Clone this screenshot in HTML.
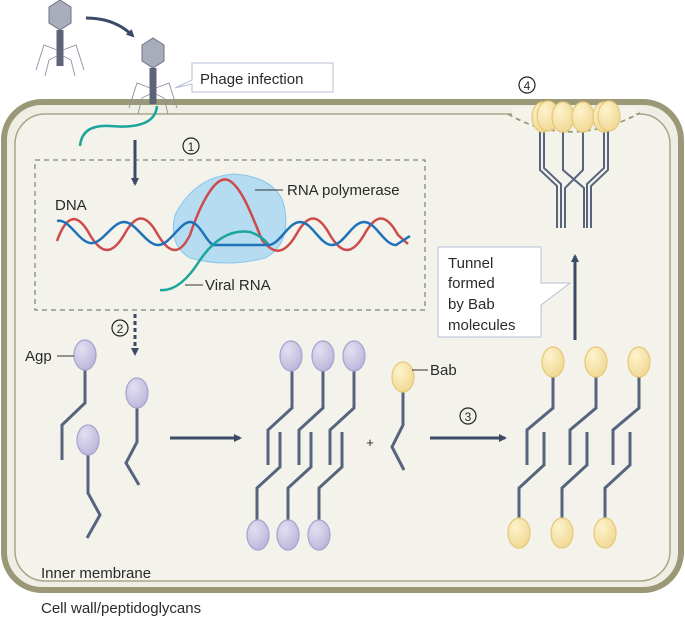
<!DOCTYPE html>
<html><head><meta charset="utf-8"><style>
body{margin:0;background:#fff;}
svg{display:block;font-family:"Liberation Sans",sans-serif;}
text{fill:#2a2a2a;}
</style></head><body>
<svg width="685" height="618" viewBox="0 0 685 618" xmlns="http://www.w3.org/2000/svg">
<defs>
<marker id="ah" markerWidth="8" markerHeight="8" refX="6" refY="4" orient="auto" markerUnits="userSpaceOnUse"><path d="M0,0 L8,4 L0,8 z" fill="#3b4a66"/></marker>
<radialGradient id="pg" cx="0.35" cy="0.3" r="0.8"><stop offset="0" stop-color="#e2e0f3"/><stop offset="1" stop-color="#b8b3d8"/></radialGradient>
<radialGradient id="yg" cx="0.35" cy="0.3" r="0.8"><stop offset="0" stop-color="#fdf3cc"/><stop offset="1" stop-color="#f0d690"/></radialGradient>
<g id="pb"><ellipse cx="0" cy="0" rx="11" ry="15" fill="url(#pg)" stroke="#a9a2cf" stroke-width="1.2"/></g>
<g id="yb"><ellipse cx="0" cy="0" rx="11" ry="15" fill="url(#yg)" stroke="#e6c878" stroke-width="1.2"/></g>
<g id="phage">
<path d="M-11,7 L0,0 L11,7 L11,23 L0,30 L-11,23z" fill="#a9adba" stroke="#6d7285"/>
<rect x="-3.5" y="30" width="7" height="36" fill="#5d6478"/>
<path d="M-3,50 L-16,45 L-24,70 M3,50 L16,45 L24,70 M-3,56 L-11,60 L-15,76 M3,56 L11,60 L15,76" stroke="#8a90a3" fill="none" stroke-width="0.9"/>
</g>
</defs>
<!-- cell -->
<rect x="4" y="102" width="677" height="488" rx="38" fill="#efeee4" stroke="#9b9878" stroke-width="6"/>
<rect x="15" y="114" width="655" height="467" rx="30" fill="#f3f2eb" stroke="#a8a68a" stroke-width="1.5"/>
<rect x="512" y="108" width="124" height="12" fill="#f3f2eb"/>
<path d="M508,114 Q570,150 640,113" fill="none" stroke="#9b9878" stroke-width="1.8" stroke-dasharray="5,4"/>
<!-- phages -->
<use href="#phage" x="60" y="0"/>
<path d="M86,18 Q115,18 133,36" fill="none" stroke="#3b4a66" stroke-width="3" marker-end="url(#ah)"/>
<use href="#phage" x="153" y="38"/>
<path d="M175,88 L192,80 L192,63 L333,63 L333,92 L192,92 L192,84z" fill="#fff" stroke="#b6bfd4"/>
<text x="200" y="84" font-size="15">Phage infection</text>
<path d="M157,106 Q155,130 110,126 Q82,124 80,146" fill="none" stroke="#1aa59d" stroke-width="2.5"/>
<!-- step 1 -->
<circle cx="191" cy="146" r="8" fill="none" stroke="#222" stroke-width="1.2"/><text x="191" y="151" font-size="12" text-anchor="middle">1</text>
<path d="M135,140 L135,184" stroke="#3b4a66" stroke-width="3" marker-end="url(#ah)"/>
<rect x="35" y="160" width="390" height="150" fill="none" stroke="#666" stroke-dasharray="5,4"/>
<text x="55" y="210" font-size="15">DNA</text>
<path d="M175,215 Q195,176 235,174 Q280,178 285,210 Q290,245 265,258 Q225,268 190,258 Q168,245 175,215z" fill="#a9d8f2" fill-opacity="0.85" stroke="#8cc6ea"/>
<path d="M57,241 C67,213 78,213 90,235 C102,255 112,255 124,235 C136,213 146,213 158,235 C170,255 180,255 190,235 C200,205 215,175 228,180 C240,185 250,210 262,240 C274,255 284,255 296,235 C308,213 318,213 330,235 C342,255 352,255 364,235 C376,213 386,213 398,235 L408,244" fill="none" stroke="#cf4a4a" stroke-width="2.5"/>
<path d="M57,221 C69,218 78,241 90,243 C102,245 112,222 124,222 C136,222 146,245 158,245 C170,245 180,222 190,222 C200,222 207,244 214,245 L268,245 C280,245 288,222 300,222 C312,222 320,245 332,245 C344,245 352,222 364,222 C376,222 384,245 396,245 L410,236" fill="none" stroke="#1f72b8" stroke-width="2.5"/>
<path d="M160,290 Q180,292 200,260 Q222,228 250,232 Q262,236 268,244" fill="none" stroke="#1aa59d" stroke-width="2.5"/>
<path d="M255,190 L283,190" stroke="#333"/><text x="287" y="195" font-size="15">RNA polymerase</text>
<path d="M185,285 L203,285" stroke="#333"/><text x="205" y="290" font-size="15">Viral RNA</text>
<!-- step 2 -->
<circle cx="120" cy="328" r="8" fill="none" stroke="#222" stroke-width="1.2"/><text x="120" y="333" font-size="12" text-anchor="middle">2</text>
<path d="M135,314 L135,354" stroke="#3b4a66" stroke-width="3" stroke-dasharray="4,3" marker-end="url(#ah)"/>
<g stroke="#56647e" stroke-width="3" fill="none">
<path d="M85,370 L85,403 L62,425 L62,460"/>
<path d="M137,408 L137,442 L126,463 L139,485"/>
<path d="M88,455 L88,493 L100,515 L87,538"/>
</g>
<use href="#pb" x="85" y="355"/><use href="#pb" x="137" y="393"/><use href="#pb" x="88" y="440"/>
<path d="M57,356 L74,356" stroke="#333"/><text x="25" y="361" font-size="15">Agp</text>
<path d="M170,438 L240,438" stroke="#3b4a66" stroke-width="3" marker-end="url(#ah)"/>
<!-- middle -->
<g stroke="#56647e" stroke-width="3" fill="none">
<path d="M292,370 L292,408 L268,430 L268,465 M280,432 L280,467 L257,488 L257,520"/>
<path d="M323,370 L323,408 L299,430 L299,465 M311,432 L311,467 L288,488 L288,520"/>
<path d="M354,370 L354,408 L330,430 L330,465 M342,432 L342,467 L319,488 L319,520"/>
<path d="M403,392 L403,425 L392,447 L404,470"/>
</g>
<use href="#pb" x="291" y="356"/><use href="#pb" x="323" y="356"/><use href="#pb" x="354" y="356"/>
<use href="#pb" x="258" y="535"/><use href="#pb" x="288" y="535"/><use href="#pb" x="319" y="535"/>
<text x="370" y="447" font-size="13" text-anchor="middle">+</text>
<use href="#yb" x="403" y="377"/>
<path d="M412,370 L428,370" stroke="#333"/><text x="430" y="375" font-size="15">Bab</text>
<circle cx="468" cy="416" r="8" fill="none" stroke="#222" stroke-width="1.2"/><text x="468" y="421" font-size="12" text-anchor="middle">3</text>
<path d="M430,438 L505,438" stroke="#3b4a66" stroke-width="3" marker-end="url(#ah)"/>
<!-- right -->
<g stroke="#56647e" stroke-width="3" fill="none">
<path d="M553,376 L553,408 L527,430 L527,465 M544,432 L544,465 L519,488 L519,520"/>
<path d="M596,376 L596,408 L570,430 L570,465 M587,432 L587,465 L562,488 L562,520"/>
<path d="M639,376 L639,408 L613,430 L613,465 M630,432 L630,465 L605,488 L605,520"/>
</g>
<use href="#yb" x="553" y="362"/><use href="#yb" x="596" y="362"/><use href="#yb" x="639" y="362"/>
<use href="#yb" x="519" y="533"/><use href="#yb" x="562" y="533"/><use href="#yb" x="605" y="533"/>
<path d="M575,340 L575,256" stroke="#3b4a66" stroke-width="3" marker-end="url(#ah)"/>
<path d="M438,247 L541,247 L541,283 L570,283 L541,305 L541,337 L438,337z" fill="#fff" stroke="#b6bfd4"/>
<g font-size="15"><text x="448" y="268">Tunnel</text><text x="448" y="288">formed</text><text x="448" y="309">by Bab</text><text x="448" y="330">molecules</text></g>
<!-- tunnel -->
<g stroke="#56647e" stroke-width="2" fill="none">
<path d="M540,128 L540,170 L557,186 L557,228 M544,128 L544,168 L561,184 L561,228"/>
<path d="M563,128 L563,170 L584,188 L584,228 M583,128 L583,170 L565,188 L565,228"/>
<path d="M608,128 L608,170 L591,186 L591,228 M604,128 L604,168 L587,184 L587,228"/>
</g>
<use href="#yb" x="543" y="117"/><use href="#yb" x="548" y="116"/><use href="#yb" x="563" y="117"/><use href="#yb" x="583" y="117"/><use href="#yb" x="604" y="117"/><use href="#yb" x="609" y="116"/>
<circle cx="527" cy="85" r="8" fill="none" stroke="#222" stroke-width="1.2"/><text x="527" y="90" font-size="12" text-anchor="middle">4</text>
<text x="41" y="578" font-size="15">Inner membrane</text>
<text x="41" y="613" font-size="15">Cell wall/peptidoglycans</text>
</svg>
</body></html>
